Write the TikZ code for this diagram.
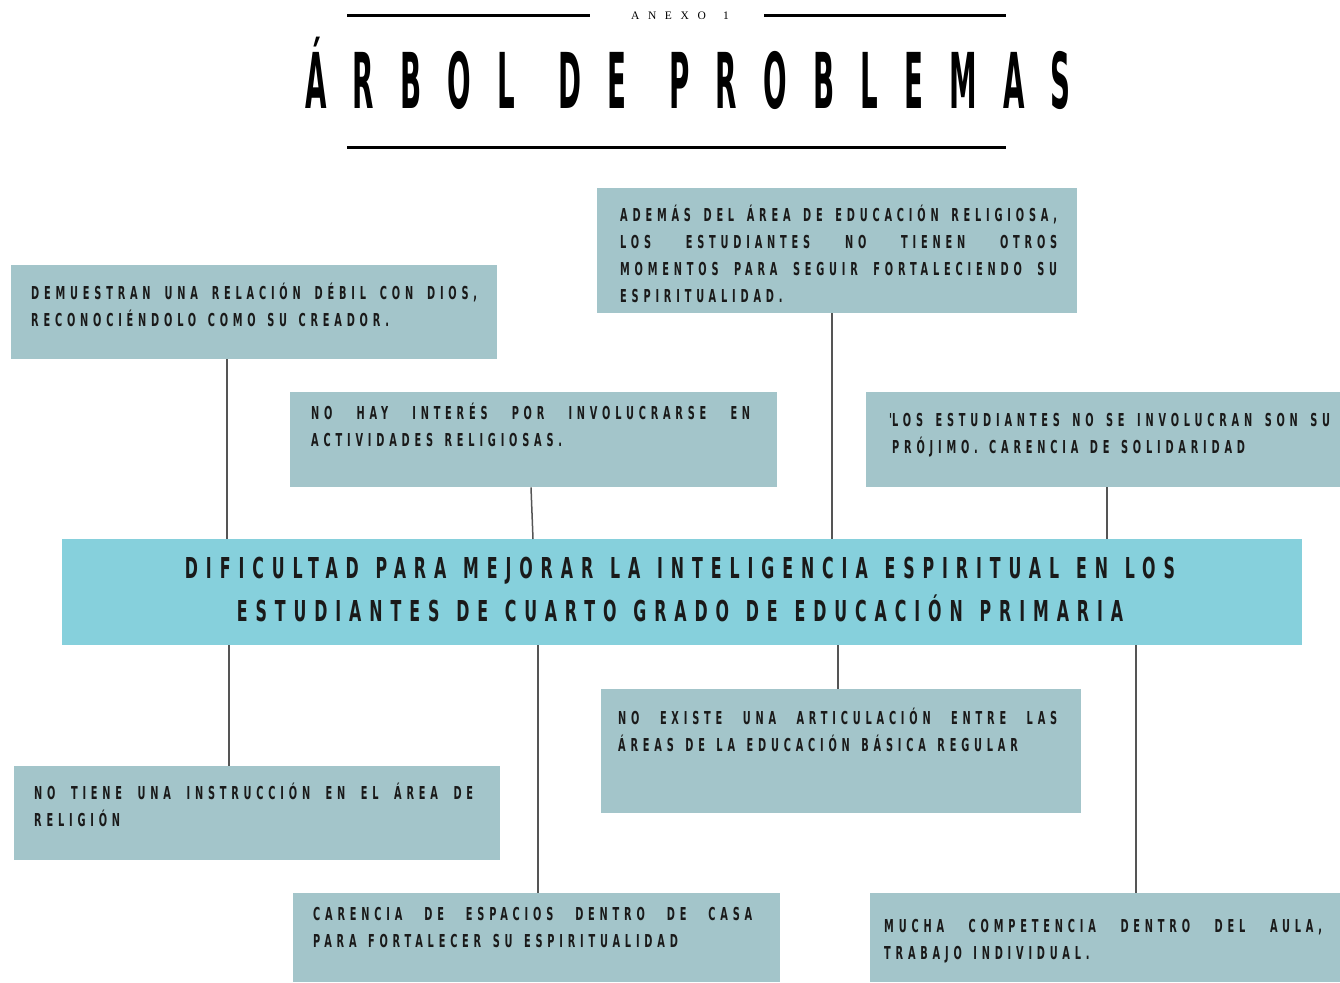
\documentclass[tikz,border=0pt]{standalone}
\usepackage{fontspec}
\newfontfamily\boxfont[FakeStretch=0.55,LetterSpace=27,WordSpace=1.4]{DejaVu Sans}
\newfontfamily\corefont[FakeStretch=0.55,LetterSpace=27.5,WordSpace=1.25]{DejaVu Sans}
\newfontfamily\titlefont[FakeStretch=0.36,LetterSpace=34,WordSpace=1.2]{DejaVu Sans}
\newfontfamily\anexofont[LetterSpace=75,WordSpace=1.5]{Liberation Serif}
\definecolor{boxcol}{HTML}{A3C5CA}
\definecolor{corecol}{HTML}{86D0DC}
\definecolor{txtcol}{HTML}{1A1A1A}
\definecolor{conncol}{HTML}{555555}
\newcommand{\fl}[2]{\makebox[#1][s]{\spaceskip=\fontdimen2\font plus 1fil minus 0.8\fontdimen2\font\relax #2}}
\tikzset{
  box/.style={fill=boxcol, draw=none, anchor=north west, inner sep=0pt},
  core/.style={fill=corecol, draw=none, anchor=north west, inner sep=0pt},
  btext/.style={anchor=base west, inner sep=0pt, text=txtcol, font=\boxfont\bfseries\fontsize{17.8}{27}\selectfont},
  ctext/.style={anchor=base, inner sep=0pt, text=txtcol, font=\corefont\bfseries\fontsize{28.8}{43}\selectfont},
  conn/.style={draw=conncol, line width=1.5pt},
  rule/.style={draw=black, line width=3pt}
}
\begin{document}
\begin{tikzpicture}[x=1pt,y=-1pt]
\useasboundingbox (0,0) rectangle (1340,982);
% header
\node[anchor=base, inner sep=0pt, font=\anexofont\fontsize{11.5}{12}\selectfont] (anexo) at (680,20) {ANEXO 1};
\node[anchor=base, inner sep=0pt, font=\titlefont\bfseries\fontsize{77}{80}\selectfont] (title) at (688,108) {ÁRBOL DE PROBLEMAS};
\draw[rule] (347,16) -- (590,16);
\draw[rule] (764,16) -- (1006,16);
\draw[rule] (347,147) -- (1006,147);
% boxes
\node[box, minimum width=486pt, minimum height=94pt] (b1) at (11,265) {};
\node[box, minimum width=480pt, minimum height=125pt] (b2) at (597,188) {};
\node[box, minimum width=487pt, minimum height=95pt] (b3) at (290,392) {};
\node[box, minimum width=474pt, minimum height=95pt] (b4) at (866,392) {};
\node[core, minimum width=1240pt, minimum height=106pt] (c) at (62,539) {};
\node[box, minimum width=486pt, minimum height=94pt] (b6) at (14,766) {};
\node[box, minimum width=480pt, minimum height=124pt] (b7) at (601,689) {};
\node[box, minimum width=487pt, minimum height=89pt] (b8) at (293,893) {};
\node[box, minimum width=470pt, minimum height=89pt] (b9) at (870,893) {};
% texts
\node[btext] (t1) at (31,299.5) {\parbox[t]{460pt}{\fl{446pt}{DEMUESTRAN UNA RELACIÓN DÉBIL CON DIOS,}\\RECONOCIÉNDOLO COMO SU CREADOR.}};
\node[btext] (t2) at (620,221.5) {\parbox[t]{460pt}{\fl{437pt}{ADEMÁS DEL ÁREA DE EDUCACIÓN RELIGIOSA,}\\\fl{437pt}{LOS ESTUDIANTES NO TIENEN OTROS}\\\fl{437pt}{MOMENTOS PARA SEGUIR FORTALECIENDO SU}\\ESPIRITUALIDAD.}};
\node[btext] (t3) at (311,419.5) {\parbox[t]{460pt}{\fl{439pt}{NO HAY INTERÉS POR INVOLUCRARSE EN}\\ACTIVIDADES RELIGIOSAS.}};
\node[btext] (t4) at (892,426.5) {\parbox[t]{460pt}{\leavevmode\llap{'}\fl{438pt}{LOS ESTUDIANTES NO SE INVOLUCRAN SON SU}\\PRÓJIMO. CARENCIA DE SOLIDARIDAD}};
\node[ctext] (tc) at (680,578.5) {\parbox[t]{1200pt}{\centering DIFICULTAD PARA MEJORAR LA INTELIGENCIA ESPIRITUAL EN LOS\\ESTUDIANTES DE CUARTO GRADO DE EDUCACIÓN PRIMARIA}};
\node[btext] (t6) at (34,799.5) {\parbox[t]{460pt}{\fl{439pt}{NO TIENE UNA INSTRUCCIÓN EN EL ÁREA DE}\\RELIGIÓN}};
\node[btext] (t7) at (618,724.5) {\parbox[t]{460pt}{\fl{439pt}{NO EXISTE UNA ARTICULACIÓN ENTRE LAS}\\ÁREAS DE LA EDUCACIÓN BÁSICA REGULAR}};
\node[btext] (t8) at (313,920.5) {\parbox[t]{460pt}{\fl{439pt}{CARENCIA DE ESPACIOS DENTRO DE CASA}\\PARA FORTALECER SU ESPIRITUALIDAD}};
\node[btext] (t9) at (884,932.5) {\parbox[t]{460pt}{\fl{438pt}{MUCHA COMPETENCIA DENTRO DEL AULA,}\\TRABAJO INDIVIDUAL.}};
% connectors
\draw[conn] (227,0 |- b1.south) -- (227,0 |- c.north);
\draw[conn] (531,0 |- b3.south) -- (533,0 |- c.north);
\draw[conn] (832,0 |- b2.south) -- (832,0 |- c.north);
\draw[conn] (1107,0 |- b4.south) -- (1107,0 |- c.north);
\draw[conn] (229,0 |- c.south) -- (229,0 |- b6.north);
\draw[conn] (538,0 |- c.south) -- (538,0 |- b8.north);
\draw[conn] (838,0 |- c.south) -- (838,0 |- b7.north);
\draw[conn] (1136,0 |- c.south) -- (1136,0 |- b9.north);
\end{tikzpicture}
\end{document}
